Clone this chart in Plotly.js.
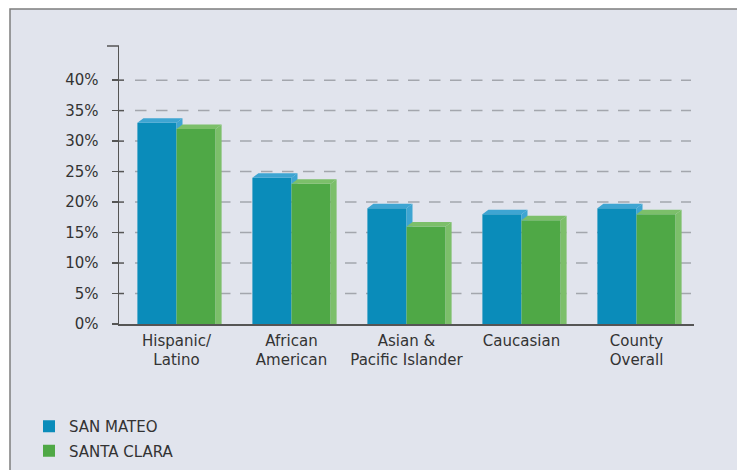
<!DOCTYPE html>
<html>
<head>
<meta charset="utf-8">
<script src="https://cdn.plot.ly/plotly-3.0.1.min.js"></script>
<style>
  html, body { margin: 0; padding: 0; background: #ffffff; }
  #chart { width: 737px; height: 470px; }
</style>
</head>
<body>
<div id="chart"></div>
<script>
// Share of residents by group, San Mateo vs Santa Clara (percent)
const categories = ['Hispanic/<br>Latino', 'African<br>American', 'Asian &<br>Pacific Islander', 'Caucasian', 'County<br>Overall'];
const sanMateo   = [33, 24, 19, 18, 19];
const santaClara = [32, 23, 16, 17, 18];
const seriesNames = ['SAN MATEO', 'SANTA CLARA'];
const yTicks = [0, 5, 10, 15, 20, 25, 30, 35, 40];
const yTickText = yTicks.map(v => v + '%');

// plot geometry (pixels)
const W = 737, H = 470;
const M = { l: 119, r: 43, t: 46, b: 146, autoexpand: false };
const plotW = W - M.l - M.r, plotH = H - M.t - M.b;
const yMax = 45.6;
const xs = categories.map((c, i) => i);

const px2x = p => (p - M.l) / plotW;          // pixel -> paper x
const py2y = p => (H - M.b - p) / plotH;      // pixel -> paper y

// bar widths and the fake-3D depth
const barW = 0.34;
const dx = 6 / (plotW / 5);
const dy = 4.5 / (plotH / yMax);

const colors = {
  blue: '#0a8cba', blueLight: '#3ea5d2',
  green: '#4fa846', greenLight: '#7cbf6a'
};

function topFaces(vals, off) {
  const X = [], Y = [];
  vals.forEach((v, i) => {
    const x0 = i + off, x1 = x0 + barW;
    X.push(x0, x1, x1 + dx, x0 + dx, x0, null);
    Y.push(v, v, v + dy, v + dy, v, null);
  });
  return { X, Y };
}
function sideFaces(vals, off, lows) {
  const X = [], Y = [];
  vals.forEach((v, i) => {
    const x1 = i + off + barW;
    const lo = Math.min(lows[i], v);
    X.push(x1, x1, x1 + dx, x1 + dx, x1, null);
    Y.push(lo, v, v + dy, lo, lo, null);
  });
  return { X, Y };
}
function face(f, color) {
  return {
    type: 'scatter', mode: 'lines', x: f.X, y: f.Y, fill: 'toself',
    fillcolor: color, line: { width: 0, color: color },
    hoverinfo: 'skip', showlegend: false
  };
}

const smTop = topFaces(sanMateo, -barW);
const smSide = sideFaces(sanMateo, -barW, santaClara);
const scTop = topFaces(santaClara, 0);
const scSide = sideFaces(santaClara, 0, santaClara.map(() => 0));

const traces = [
  { type: 'bar', name: seriesNames[0], x: xs, y: sanMateo, width: barW, offset: -barW,
    marker: { color: colors.blue, line: { width: 0 } }, legendgroup: 'a' },
  { type: 'bar', name: seriesNames[1], x: xs, y: santaClara, width: barW, offset: 0,
    marker: { color: colors.green, line: { width: 0 } }, legendgroup: 'b' },
  face(smTop, colors.blueLight),
  face(smSide, colors.blueLight),
  face(scTop, colors.greenLight),
  face(scSide, colors.greenLight)
];

const shapes = [];
// panel with its left/top border
shapes.push({ type: 'rect', xref: 'paper', yref: 'paper', layer: 'below',
  x0: px2x(10), x1: px2x(760), y0: py2y(9), y1: py2y(490),
  fillcolor: '#e1e4ed', line: { color: '#7d7d7d', width: 1.5 } });
// dashed gridlines
yTicks.filter(v => v > 0).forEach(v => {
  shapes.push({ type: 'line', xref: 'paper', yref: 'y', layer: 'below',
    x0: px2x(135), x1: px2x(691), y0: v, y1: v,
    line: { color: '#a3a6ad', width: 1.5, dash: '11.5px,9.5px' } });
  // right-hand part of each tick, crossing the axis
  shapes.push({ type: 'line', xref: 'paper', yref: 'y',
    x0: px2x(118), x1: px2x(124), y0: v, y1: v,
    line: { color: '#555555', width: 1.5 } });
});
// cap at the top of the y axis
shapes.push({ type: 'line', xref: 'paper', yref: 'paper',
  x0: px2x(107), x1: px2x(119), y0: 1, y1: 1,
  line: { color: '#555555', width: 1.5 } });

const font = '"DejaVu Sans"';

const layout = {
  width: W, height: H,
  margin: M,
  paper_bgcolor: '#ffffff',
  plot_bgcolor: 'rgba(0,0,0,0)',
  showlegend: true,
  barmode: 'overlay',
  font: { family: font, size: 15, color: '#333333' },
  xaxis: {
    range: [-0.5, 4.5], tickvals: xs, ticktext: categories,
    showgrid: false, zeroline: false, showline: true,
    linecolor: '#555555', linewidth: 1.5, ticks: '',
    ticklabelstandoff: 2,
    tickfont: { family: font, size: 15, color: '#333333' },
    fixedrange: true
  },
  yaxis: {
    range: [0, yMax], tickvals: yTicks, ticktext: yTickText,
    showgrid: false, zeroline: false, showline: true,
    linecolor: '#555555', linewidth: 1.5,
    ticks: 'outside', ticklen: 6, tickwidth: 1.5, tickcolor: '#555555',
    ticklabelstandoff: 10,
    tickfont: { family: font, size: 15, color: '#333333' },
    fixedrange: true
  },
  legend: {
    x: px2x(29), xanchor: 'left', y: py2y(410), yanchor: 'top',
    bgcolor: 'rgba(0,0,0,0)', borderwidth: 0,
    traceorder: 'grouped', tracegroupgap: 2,
    font: { family: font, size: 15, color: '#333333' }
  },
  shapes: shapes
};

Plotly.newPlot('chart', traces, layout, { displayModeBar: false, staticPlot: true });
</script>
</body>
</html>
